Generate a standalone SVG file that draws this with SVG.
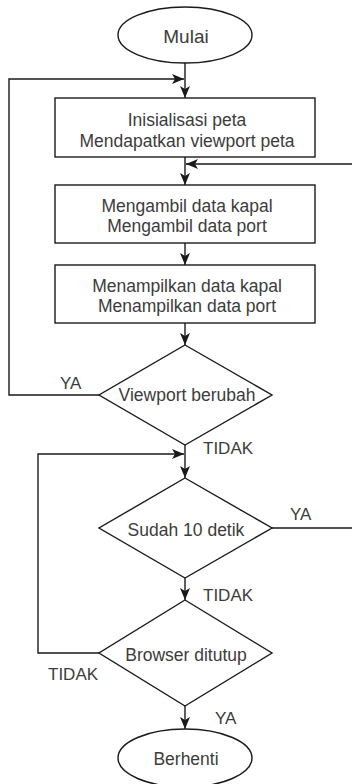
<svg xmlns="http://www.w3.org/2000/svg" width="352" height="784" viewBox="0 0 352 784">
<style>
.s{fill:#fff;stroke:#1a1a1a;stroke-width:1.4}
.c{fill:none;stroke:#1a1a1a;stroke-width:1.4}
.t{font-family:"Liberation Sans",Arial,sans-serif;font-size:17.5px;fill:#3c3c3c;text-anchor:middle}
.l{font-family:"Liberation Sans",Arial,sans-serif;font-size:17px;fill:#3c3c3c}
</style>
<defs>
<marker id="a" viewBox="0 0 12 10" refX="12" refY="5" markerWidth="12" markerHeight="10" markerUnits="userSpaceOnUse" orient="auto">
<path d="M0,0 L12,5 L0,10 L3,5 z" fill="#1a1a1a"/>
</marker>
</defs>
<rect width="352" height="784" fill="#fff"/>
<g id="connectors">
<path class="c" d="M185,63 V98" marker-end="url(#a)"/>
<path class="c" d="M99,395 H9 V79 H184" marker-end="url(#a)"/>
<path class="c" d="M185,157 V185" marker-end="url(#a)"/>
<path class="c" d="M272,528 H362 V164 H186" marker-end="url(#a)"/>
<path class="c" d="M185,243 V265" marker-end="url(#a)"/>
<path class="c" d="M185,323 V345" marker-end="url(#a)"/>
<path class="c" d="M185,445 V478" marker-end="url(#a)"/>
<path class="c" d="M99,653 H38 V454 H184" marker-end="url(#a)"/>
<path class="c" d="M185,578 V600" marker-end="url(#a)"/>
<path class="c" d="M185,706 V729" marker-end="url(#a)"/>
<text class="l" x="60" y="389">YA</text>
<text class="l" x="203" y="454">TIDAK</text>
<text class="l" x="290" y="520">YA</text>
<text class="l" x="203" y="601">TIDAK</text>
<text class="l" x="48" y="680">TIDAK</text>
<text class="l" x="215" y="724">YA</text>
</g>
<g id="mulai">
<ellipse class="s" cx="185" cy="35" rx="67" ry="28"/>
<text class="t" x="186" y="43" style="font-size:19px">Mulai</text>
</g>
<g id="inisialisasi">
<rect class="s" x="55" y="98" width="260" height="59"/>
<text class="t" x="187" y="126">Inisialisasi peta</text>
<text class="t" x="187" y="147">Mendapatkan viewport peta</text>
</g>
<g id="mengambil">
<rect class="s" x="55" y="185" width="260" height="58"/>
<text class="t" x="187" y="212">Mengambil data kapal</text>
<text class="t" x="187" y="232">Mengambil data port</text>
</g>
<g id="menampilkan">
<rect class="s" x="55" y="265" width="260" height="58"/>
<text class="t" x="187" y="292">Menampilkan data kapal</text>
<text class="t" x="187" y="312">Menampilkan data port</text>
</g>
<g id="viewport">
<path class="s" d="M185,345 L272,395 L185,445 L99,395 Z"/>
<text class="t" x="187" y="401">Viewport berubah</text>
</g>
<g id="sudah">
<path class="s" d="M185,478 L272,528 L185,578 L99,528 Z"/>
<text class="t" x="186" y="536">Sudah 10 detik</text>
</g>
<g id="browser">
<path class="s" d="M185,600 L272,653 L185,706 L99,653 Z"/>
<text class="t" x="186" y="661">Browser ditutup</text>
</g>
<g id="berhenti">
<ellipse class="s" cx="185" cy="758" rx="67" ry="29"/>
<text class="t" x="186" y="765">Berhenti</text>
</g>
</svg>
